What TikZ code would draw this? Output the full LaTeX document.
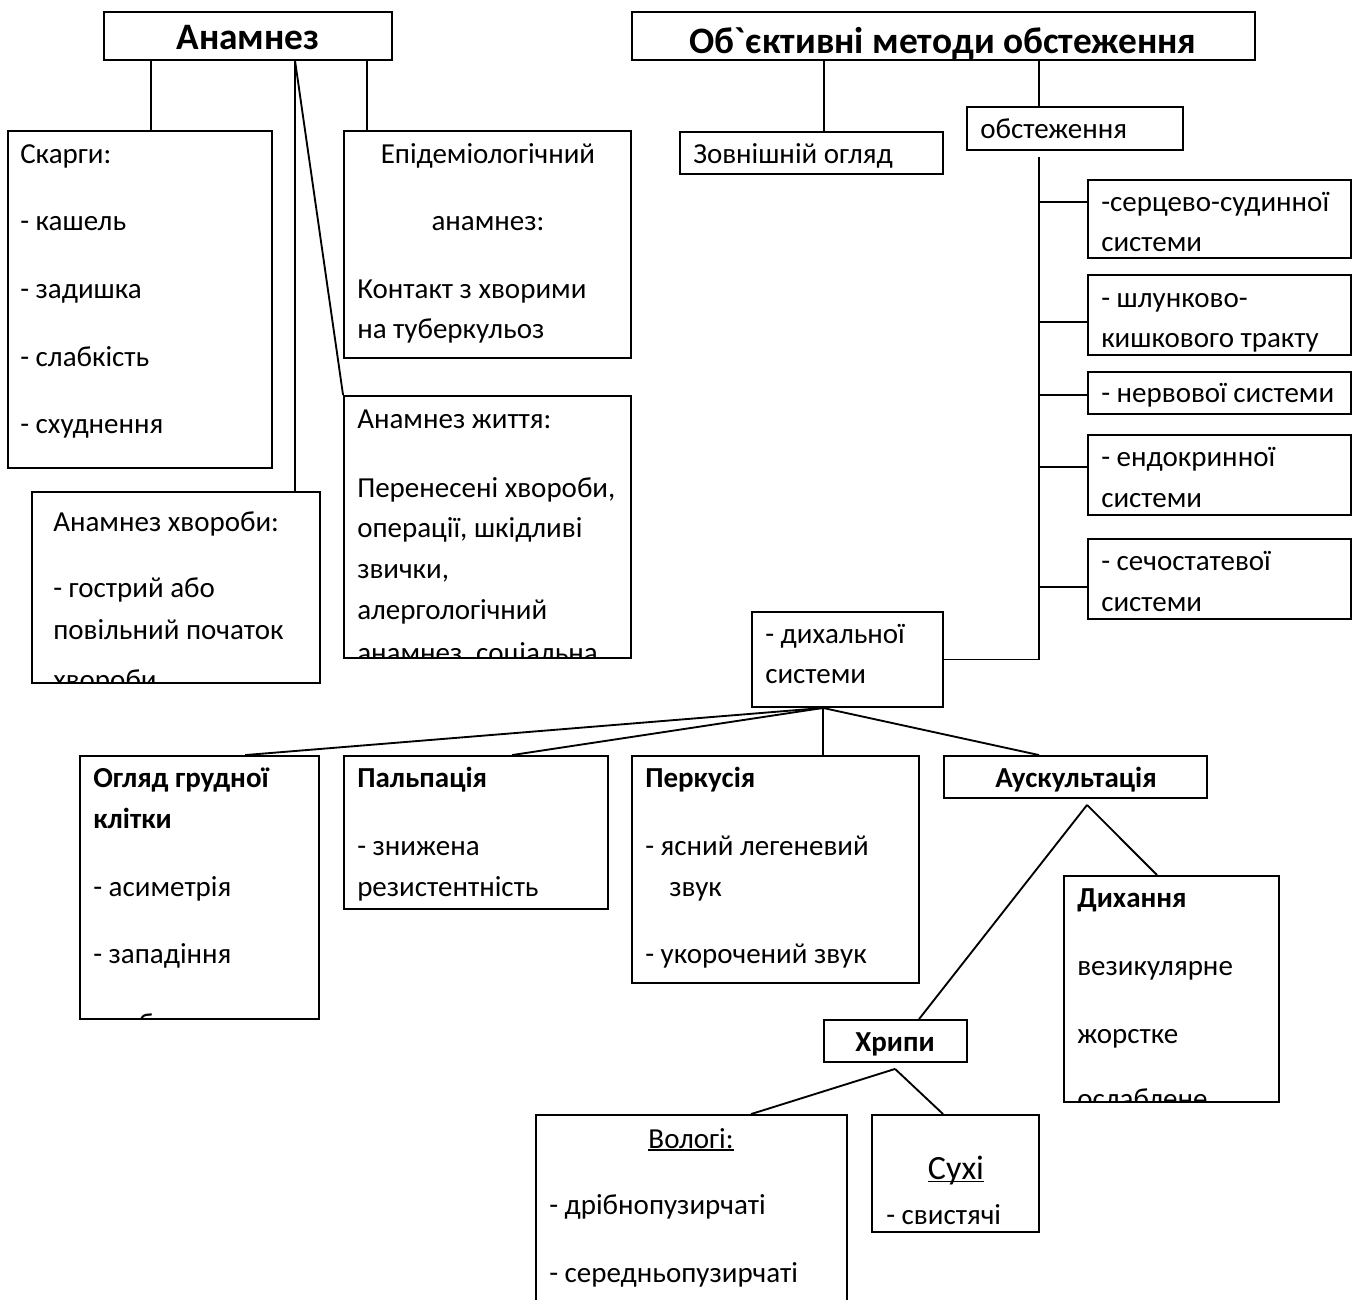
\documentclass[tikz,border=0pt]{standalone}
\usepackage{fontspec}
\newfontfamily\cf{Carlito}
\usetikzlibrary{fit,calc}
\newcommand\bodyf{\cf\fontsize{21.75pt}{26pt}\selectfont}
\newcommand\headf{\cf\bfseries\fontsize{28pt}{33pt}\selectfont}
\newcommand\myul[1]{\setbox0\hbox{#1}\rlap{\rule[-0.1em]{\wd0}{0.055em}}\box0}
\newcommand\bx[5]{\node[box, fit={(#2,#3) (#4,#5)}] (#1) {};}
\newcommand\tl[4]{\node[txt] (#1) at (#2,#3) {#4};}
\newcommand\tb[4]{\node[txt, font=\bodyf\bfseries] (#1) at (#2,#3) {#4};}
\tikzset{
  box/.style={draw, line width=1.4pt, inner sep=0pt, rectangle},
  ln/.style={line width=1.4pt},
  txt/.style={anchor=base west, inner sep=0pt, font=\bodyf},
  ctxt/.style={anchor=base, inner sep=0pt, font=\bodyf},
}
\begin{document}
\begin{tikzpicture}[x=0.75pt,y=-0.75pt]
\fill[white] (0,0) rectangle (1354,1300);
\useasboundingbox (0,0) rectangle (1354,1300);

% ---------- boxes ----------
\bx{anamnez}{104}{12}{392}{60}
\bx{obj}{632}{12}{1255}{60}
\bx{skarhy}{8}{131}{272}{468}
\bx{epid}{344}{131}{631}{358}
\bx{zhyttia}{344}{396}{631}{658}
\bx{khvoroby}{32}{492}{320}{683}
\bx{zovn}{680}{132}{943}{174}
\bx{obst}{967}{107}{1183}{150}
\bx{ss}{1088}{180}{1351}{258}
\bx{shk}{1088}{275}{1351}{355}
\bx{nerv}{1088}{372}{1351}{414}
\bx{endo}{1088}{435}{1351}{515}
\bx{sech}{1088}{539}{1351}{619}
\bx{dykh}{752}{612}{943}{707}
\bx{ohliad}{80}{756}{319}{1019}
\bx{palp}{344}{756}{608}{909}
\bx{perk}{632}{756}{919}{983}
\bx{ausk}{944}{756}{1207}{798}
\bx{dykhannia}{1064}{876}{1279}{1102}
\bx{khrypy}{824}{1020}{967}{1062}
\bx{volohi}{536}{1115}{847}{1330}
\bx{sukhi}{872}{1115}{1039}{1232}

% ---------- headers ----------
\node[anchor=base, inner sep=0pt, font=\headf] (tanamnez) at (248,49) {Анамнез};
\node[anchor=base, inner sep=0pt, font=\headf] (tobj) at (943,53) {Об`єктивні методи обстеження};

% ---------- texts ----------
\tl{s1}{20}{163}{Скарги:}
\tl{s2}{20}{230}{- кашель}
\tl{s3}{20}{298}{- задишка}
\tl{s4}{20}{366}{- слабкість}
\tl{s5}{20}{433}{- схуднення}

\node[ctxt] (e1) at (488,163) {Епідеміологічний};
\node[ctxt] (e2) at (488,230) {анамнез:};
\tl{e3}{357}{298}{Контакт з хворими}
\tl{e4}{357}{338}{на туберкульоз}

\begin{scope}
\clip (344,396) rectangle (631,657);
\tl{z1}{357}{428}{Анамнез життя:}
\tl{z2}{357}{497}{Перенесені хвороби,}
\tl{z3}{357}{537}{операції, шкідливі}
\tl{z4}{357}{578}{звички,}
\tl{z5}{357}{619}{алергологічний}
\tl{z6}{357}{662}{анамнез, соціальна}
\end{scope}

\begin{scope}
\clip (32,492) rectangle (320,682);
\tl{k1}{53}{531}{Анамнез хвороби:}
\tl{k2}{53}{597}{- гострий або}
\tl{k3}{53}{639}{повільний початок}
\tl{k4}{53}{689}{хвороби}
\end{scope}

\tl{zo1}{693}{163}{Зовнішній огляд}
\tl{ob1}{980}{138}{обстеження}
\tl{ss1}{1101}{211}{-серцево-судинної}
\tl{ss2}{1101}{251}{системи}
\tl{sh1}{1101}{307}{- шлунково-}
\tl{sh2}{1101}{347}{кишкового тракту}
\tl{nv1}{1101}{402}{- нервової системи}
\tl{en1}{1101}{466}{- ендокринної}
\tl{en2}{1101}{507}{системи}
\tl{se1}{1101}{570}{- сечостатевої}
\tl{se2}{1101}{611}{системи}
\tl{dy1}{765}{643}{- дихальної}
\tl{dy2}{765}{683}{системи}

\begin{scope}
\clip (80,756) rectangle (319,1018);
\tb{o1}{93}{787}{Огляд грудної}
\tb{o2}{93}{828}{клітки}
\tl{o3}{93}{896}{- асиметрія}
\tl{o4}{93}{963}{- западіння}
\tl{o5}{93}{1033}{- вибухання}
\end{scope}

\tb{p1}{357}{787}{Пальпація}
\tl{p2}{357}{855}{- знижена}
\tl{p3}{357}{896}{резистентність}

\tb{pk1}{645}{787}{Перкусія}
\tl{pk2}{645}{855}{- ясний легеневий}
\tl{pk3}{669}{896}{звук}
\tl{pk4}{645}{963}{- укорочений звук}

\node[ctxt, font=\bodyf\bfseries] (a1) at (1076,787) {Аускультація};

\begin{scope}
\clip (1064,876) rectangle (1279,1101);
\tb{d1}{1077}{907}{Дихання}
\tl{d2}{1077}{975}{везикулярне}
\tl{d3}{1077}{1043}{жорстке}
\tl{d4}{1077}{1108}{ослаблене}
\end{scope}

\node[ctxt, font=\bodyf\bfseries] (h1) at (895,1051) {Хрипи};

\node[ctxt] (v1) at (691,1148) {\myul{Вологі:}};
\tl{v2}{549}{1214}{- дрібнопузирчаті}
\tl{v3}{549}{1282}{- середньопузирчаті}

\node[ctxt, font=\cf\fontsize{25.5pt}{30pt}\selectfont] (c1) at (956,1179) {\myul{Сухі}};
\tl{c2}{886}{1224}{- свистячі}

% ---------- connectors ----------
\draw[ln] ($(anamnez.south west)+(48,0)$) -- ($(skarhy.north west)+(144,0)$);
\draw[ln] ($(anamnez.south west)+(264,0)$) -- ($(epid.north west)+(24,0)$);
\draw[ln] ($(anamnez.south west)+(192,0)$) -- ($(khvoroby.north west)+(264,0)$);
\draw[ln] ($(anamnez.south west)+(192,0)$) -- (zhyttia.north west);

\draw[ln] ($(obj.south west)+(193,0)$) -- ($(zovn.north west)+(145,0)$);
\draw[ln] ($(obj.south west)+(408,0)$) -- ($(obst.north west)+(73,0)$);

\coordinate (trunktop) at ($(obst.south west)+(73,6)$);
\draw[ln] (trunktop) |- (dykh.east);
\draw[ln] ($(ss.north west)+(0,23)$) -- ++(-48,0);
\draw[ln] ($(shk.north west)+(0,48)$) -- ++(-48,0);
\draw[ln] ($(nerv.north west)+(0,24)$) -- ++(-48,0);
\draw[ln] ($(endo.north west)+(0,33)$) -- ++(-48,0);
\draw[ln] ($(sech.north west)+(0,49)$) -- ++(-48,0);

\coordinate (dykhb) at ($(dykh.south west)+(72,0)$);
\draw[ln] (dykhb) -- ($(ohliad.north west)+(166,0)$);
\draw[ln] (dykhb) -- ($(palp.north west)+(169,0)$);
\draw[ln] (dykhb) -- ($(perk.north west)+(192,0)$);
\draw[ln] (dykhb) -- ($(ausk.north west)+(96,0)$);

\coordinate (auskb) at ($(ausk.south west)+(144,6)$);
\draw[ln] (auskb) -- ($(khrypy.north west)+(96,0)$);
\draw[ln] (auskb) -- ($(dykhannia.north west)+(94,0)$);

\coordinate (khrypyb) at ($(khrypy.south west)+(72,6)$);
\draw[ln] (khrypyb) -- ($(volohi.north west)+(216,0)$);
\draw[ln] (khrypyb) -- ($(sukhi.north west)+(72,0)$);
\end{tikzpicture}
\end{document}
